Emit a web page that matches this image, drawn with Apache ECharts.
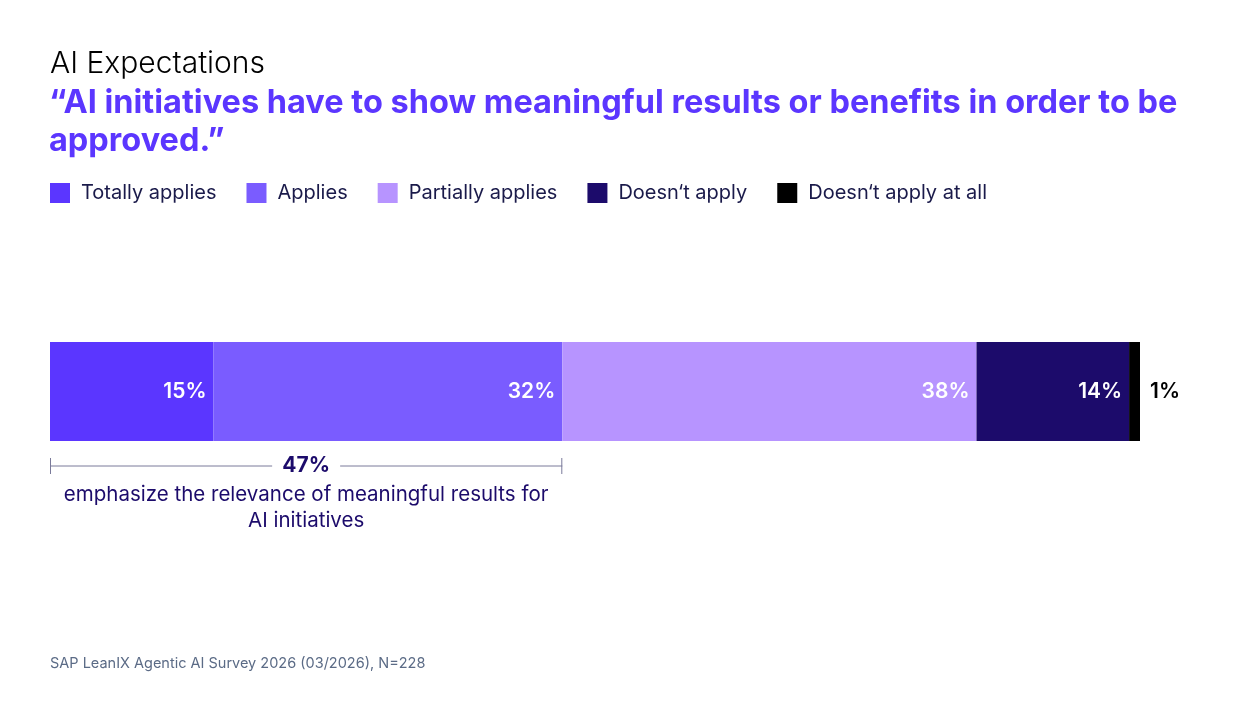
<!DOCTYPE html>
<html>
<head>
<meta charset="utf-8">
<script src="https://cdn.jsdelivr.net/npm/echarts@6/dist/echarts.min.js"></script>
<style>
  html, body { margin: 0; padding: 0; background: #fff; }
  #chart { width: 1240px; height: 720px; }
</style>
</head>
<body>
<div id="chart"></div>
<script>
var categories = ['AI Expectations'];
var seriesNames = ['Totally applies', 'Applies', 'Partially applies', 'Doesn\u2018t apply', 'Doesn\u2018t apply at all'];
var seriesValues = [15, 32, 38, 14, 1];
var seriesColors = ['#5b36ff', '#7a5cff', '#b794ff', '#1c0b6b', '#000000'];
var highlightCount = 2; // first two answers are summed in the bracket

var fontFamily = 'Inter, "Noto Sans", sans-serif';
var chartDom = document.getElementById('chart');
var myChart = echarts.init(chartDom);

var series = seriesNames.map(function (name, i) {
    var last = i === seriesNames.length - 1;
    return {
        name: name,
        type: 'bar',
        stack: 'total',
        barWidth: 99,
        data: [seriesValues[i]],
        itemStyle: { color: seriesColors[i] },
        label: {
            show: true,
            position: last ? 'right' : 'insideRight',
            distance: last ? 10 : 7,
            formatter: '{c}%',
            color: last ? '#000' : '#fff',
            fontSize: 21,
            fontWeight: 600,
            fontFamily: fontFamily
        }
    };
});

var option = {
    animation: false,
    title: [
        {
            text: 'AI Expectations',
            left: 50, top: 49, padding: 0,
            textStyle: { fontSize: 30, fontWeight: 300, color: '#000', fontFamily: fontFamily }
        },
        {
            text: '\u201cAI initiatives have to show meaningful results or benefits in order to be\napproved.\u201d',
            left: 49, top: 84, padding: 0,
            textStyle: { fontSize: 32.5, fontWeight: 700, color: '#5b36ff', lineHeight: 38, fontFamily: fontFamily }
        },
        {
            text: 'SAP LeanIX Agentic AI Survey 2026 (03/2026), N=228',
            left: 50, top: 656, padding: 0,
            textStyle: { fontSize: 14.5, fontWeight: 400, color: '#5b6b86', fontFamily: fontFamily }
        }
    ],
    legend: {
        left: 50, top: 183, padding: 0,
        icon: 'rect',
        itemWidth: 20, itemHeight: 20,
        itemGap: 30,
        textStyle: { fontSize: 20, color: '#1a1a4a', fontFamily: fontFamily, padding: [0, 0, 0, 6] },
        data: seriesNames
    },
    grid: { left: 50, right: 100, top: 342, height: 99 },
    xAxis: { type: 'value', min: 0, max: 100, show: false },
    yAxis: { type: 'category', data: categories, show: false },
    series: series
};

option && myChart.setOption(option);

// bracket under the first two segments
var sumHighlight = seriesValues.slice(0, highlightCount).reduce(function (a, b) { return a + b; }, 0);
var x0 = myChart.convertToPixel({ gridIndex: 0 }, [0, 0])[0];
var x1 = myChart.convertToPixel({ gridIndex: 0 }, [sumHighlight, 0])[0];
var xm = (x0 + x1) / 2;
var yLine = 466;
var lineColor = '#7a7a9a';
var gap = 34;

myChart.setOption({
    graphic: [
        { type: 'line', shape: { x1: x0, y1: yLine, x2: xm - gap, y2: yLine }, style: { stroke: lineColor, lineWidth: 1 } },
        { type: 'line', shape: { x1: xm + gap, y1: yLine, x2: x1, y2: yLine }, style: { stroke: lineColor, lineWidth: 1 } },
        { type: 'line', shape: { x1: x0 + 0.5, y1: yLine - 8, x2: x0 + 0.5, y2: yLine + 8 }, style: { stroke: lineColor, lineWidth: 1 } },
        { type: 'line', shape: { x1: x1 - 0.5, y1: yLine - 8, x2: x1 - 0.5, y2: yLine + 8 }, style: { stroke: lineColor, lineWidth: 1 } },
        {
            type: 'text', x: xm, y: yLine,
            style: {
                text: sumHighlight + '%', align: 'center', verticalAlign: 'middle',
                fontSize: 21, fontWeight: 700, fill: '#1c0b6b', fontFamily: fontFamily
            }
        },
        {
            type: 'text', x: xm, y: 482,
            style: {
                text: 'emphasize the relevance of meaningful results for\nAI initiatives',
                align: 'center', verticalAlign: 'top', lineHeight: 26,
                fontSize: 20.5, fontWeight: 400, fill: '#1c0b6b', fontFamily: fontFamily
            }
        }
    ]
});
</script>
</body>
</html>
